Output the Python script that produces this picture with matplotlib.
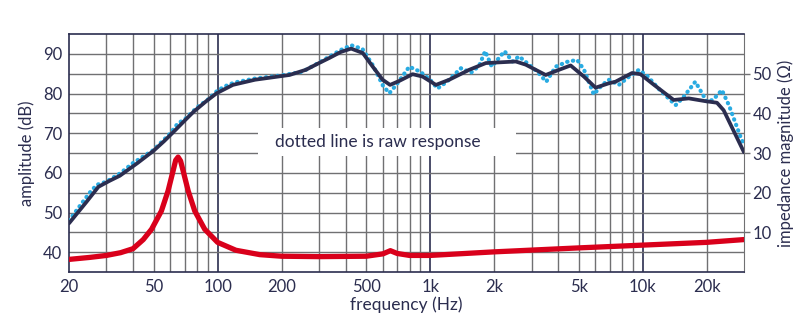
import numpy as np
import matplotlib.pyplot as plt
from matplotlib.patches import Rectangle

plt.rcParams['font.family'] = ['Lato', 'DejaVu Sans']

navy = '#2b2d4f'
grey = '#707072'
red = '#d9001b'
blue = '#29abe2'

# smoothed amplitude response (dB)
smooth_f = [20, 24, 27.5, 31, 34.7, 42, 50, 56, 63, 70, 77, 88, 99, 118, 150, 218, 260,
            300, 336, 380, 425, 482, 537, 598, 648, 716, 827, 922, 1065, 1230, 1527, 1828,
            2530, 2818, 3498, 4040, 4584, 5292, 6005, 6930, 7450, 8920, 9770, 11070,
            14000, 16480, 19730, 22380, 24060, 30000]
smooth_db = [47.3, 52.5, 56.5, 58.0, 59.3, 62.5, 65.6, 68.0, 70.7, 73.2, 75.4, 78.0, 80.1,
             82.2, 83.5, 84.7, 86.0, 87.7, 89.0, 90.5, 91.35, 90.25, 86.8, 83.5, 82.2,
             83.2, 84.9, 84.3, 82.2, 83.5, 86.0, 87.7, 88.1, 87.3, 84.7, 86.0, 87.1, 84.3,
             81.5, 82.6, 83.0, 85.2, 84.9, 82.6, 78.4, 78.8, 78.1, 77.7, 75.8, 65.2]

# raw amplitude response (dB)
raw_f = [20, 22, 25, 27, 30, 35, 40, 50, 60, 65, 70, 80, 90, 100, 110, 120, 150, 200, 250,
         300, 380, 425, 480, 540, 600, 643, 700, 798, 900, 1000, 1084, 1200, 1397, 1560,
         1700, 1816, 1950, 2240, 2440, 2620, 2920, 3200, 3520, 3900, 4400, 4920, 5300,
         5890, 6400, 6930, 7730, 8500, 9600, 10500, 12000, 14300, 15500, 17700, 20100,
         21500, 23600, 25500, 29300, 30000]
raw_db = [48.0, 51.0, 55.0, 57.0, 57.8, 60.0, 62.5, 65.8, 70.0, 72.5, 73.5, 76.5, 78.5,
          80.8, 82.0, 82.8, 83.8, 84.6, 85.5, 87.8, 91.0, 92.2, 91.3, 87.0, 82.0, 80.1,
          82.5, 86.8, 85.5, 83.5, 81.3, 83.0, 86.4, 85.3, 87.0, 90.7, 86.8, 90.7, 88.1,
          89.4, 87.3, 85.5, 83.0, 86.8, 88.0, 88.5, 86.0, 79.8, 82.0, 83.5, 82.2, 84.0,
          86.0, 84.5, 81.0, 77.1, 79.0, 83.0, 77.9, 78.5, 80.9, 77.0, 68.2, 67.5]

# impedance magnitude (ohm)
imp_f = [20, 25, 30, 35, 40, 44.7, 48.9, 54.4, 58.5, 61.8, 63.5, 65.2, 67, 68.8, 72.7,
         78.1, 87, 100, 122, 158, 200, 300, 500, 600, 650, 700, 800, 1000, 2000, 5000,
         10000, 20000, 30000]
imp_ohm = [3.2, 3.7, 4.2, 4.9, 5.9, 8.2, 10.8, 15.4, 20.5, 25.6, 28.2, 29.0, 28.0, 25.6,
           20.5, 15.4, 10.8, 7.5, 5.5, 4.4, 4.0, 3.9, 4.0, 4.6, 5.4, 4.7, 4.2, 4.2, 5.1,
           6.1, 6.8, 7.5, 8.2]

x_ticks = [20, 50, 100, 200, 500, 1000, 2000, 5000, 10000, 20000]
x_labels = ['20', '50', '100', '200', '500', '1k', '2k', '5k', '10k', '20k']

fig = plt.figure(figsize=(7.99, 3.22), dpi=100)
ax = fig.add_axes([0.0864, 0.155, 0.8448, 0.739])
ax.set_xscale('log')
ax.set_xlim(20, 30000)
ax.set_ylim(35, 95)

# grid
decade_lines = [100, 1000, 10000]
minor_lines = [m * d for d in [10, 100, 1000] for m in range(2, 10)] + [20000]
for f in minor_lines:
    if f > 20:
        ax.axvline(f, color=grey, lw=1.0, zorder=1)
for f in decade_lines:
    ax.axvline(f, color=navy, lw=1.2, zorder=1)
for y in range(40, 95, 5):
    ax.axhline(y, color=grey, lw=1.0, zorder=1)

ax.add_patch(Rectangle((0.28, 0.487), 0.382, 0.118, transform=ax.transAxes,
                       facecolor='white', edgecolor='none', zorder=2))
ax.text(565, 67.7, 'dotted line is raw response', ha='center', va='center',
        fontsize=12.5, color=navy, zorder=3)

ax.plot(raw_f, raw_db, color=blue, lw=3.0, ls=(0, (0.1, 1.3)),
        dash_capstyle='round', zorder=4)
ax.plot(smooth_f, smooth_db, color=navy, lw=2.7, zorder=5,
        solid_joinstyle='round', solid_capstyle='round')

ax.set_xticks(x_ticks)
ax.set_xticklabels(x_labels)
ax.xaxis.set_minor_locator(plt.NullLocator())
ax.set_yticks(range(40, 95, 10))
ax.tick_params(axis='both', length=0, labelsize=12, colors=navy, pad=5)
ax.set_xlabel('frequency (Hz)', fontsize=12.5, color=navy, labelpad=1)
ax.set_ylabel('amplitude (dB)', fontsize=12, color=navy, labelpad=6)

for s in ['top', 'left', 'bottom']:
    ax.spines[s].set_color(navy)
    ax.spines[s].set_linewidth(1.2)
ax.spines['right'].set_color(grey)

ax2 = ax.twinx()
ax2.set_ylim(0, 60)
ax2.plot(imp_f, imp_ohm, color=red, lw=3.8, solid_capstyle='round',
         solid_joinstyle='round', zorder=5)
ax2.set_yticks(range(10, 60, 10))
ax2.tick_params(axis='y', length=4, width=1, color=grey, labelsize=12,
                labelcolor=navy, pad=2)
ax2.set_ylabel('impedance magnitude (Ω)', fontsize=12, color=navy, labelpad=4)
for s in ax2.spines.values():
    s.set_visible(False)

fig.savefig('out.png', dpi=100)
